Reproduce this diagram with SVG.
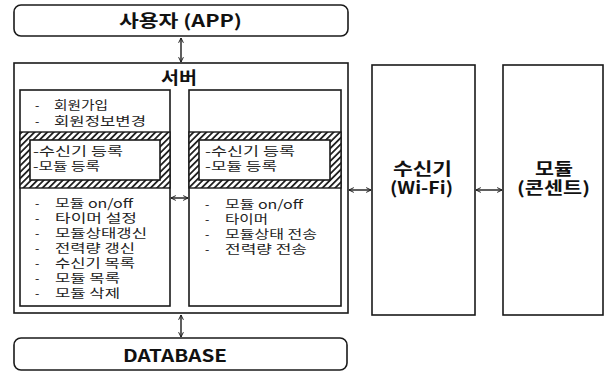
<svg xmlns="http://www.w3.org/2000/svg" width="604" height="372" viewBox="0 0 604 372">
<style>
.box{fill:#fff;stroke:#1a1a1a;stroke-width:1.6}
.hatch{fill:url(#hp);stroke:#1a1a1a;stroke-width:1.4}
.t{font-family:"Noto Sans CJK KR","Noto Sans",sans-serif;font-size:12.5px;fill:#222}
.b{font-family:"Noto Sans CJK KR","Noto Sans",sans-serif;font-size:17px;font-weight:bold;fill:#111}
.c{stroke:#1a1a1a;stroke-width:1.4;fill:none;marker-start:url(#ah);marker-end:url(#ah)}
</style>
<defs>
<pattern id="hp" width="4.5" height="4.5" patternUnits="userSpaceOnUse" patternTransform="rotate(45)">
<rect width="4.5" height="4.5" fill="#fff"/>
<rect width="1.8" height="4.5" fill="#222"/>
</pattern>
<marker id="ah" viewBox="0 0 10 10" refX="9" refY="5" markerWidth="6" markerHeight="6" markerUnits="userSpaceOnUse" orient="auto-start-reverse">
<path d="M1,1 L9,5 L1,9" fill="none" stroke="#1a1a1a" stroke-width="1.6"/>
</marker>
</defs>

<g id="app">
<rect class="box" x="14" y="5" width="334" height="31" rx="7"/>
<text class="b" x="119" y="27" textLength="123" lengthAdjust="spacingAndGlyphs">사용자 (APP)</text>
</g>

<g id="server">
<rect class="box" x="14" y="63" width="334" height="250"/>
<text class="b" x="161" y="84" textLength="36" lengthAdjust="spacingAndGlyphs">서버</text>
</g>

<g id="server-left">
<rect class="box" x="20" y="90" width="150" height="216"/>
<rect class="hatch" x="20" y="132" width="150" height="56"/>
<rect class="box" x="30" y="140" width="130" height="40" stroke-width="1.4"/>
<text class="t" x="35" y="110">-</text><text class="t" x="54" y="110" textLength="54" lengthAdjust="spacingAndGlyphs">회원가입</text>
<text class="t" x="35" y="126">-</text><text class="t" x="54" y="126" textLength="92" lengthAdjust="spacingAndGlyphs">회원정보변경</text>
<text class="t" x="33" y="156" textLength="90" lengthAdjust="spacingAndGlyphs">-수신기 등록</text>
<text class="t" x="33" y="171" textLength="67" lengthAdjust="spacingAndGlyphs">-모듈 등록</text>
<text class="t" x="35" y="208">-</text><text class="t" x="55" y="208" textLength="78" lengthAdjust="spacingAndGlyphs">모듈 on/off</text>
<text class="t" x="35" y="223">-</text><text class="t" x="55" y="223" textLength="82" lengthAdjust="spacingAndGlyphs">타이머 설정</text>
<text class="t" x="35" y="238">-</text><text class="t" x="55" y="238" textLength="92" lengthAdjust="spacingAndGlyphs">모듈상태갱신</text>
<text class="t" x="35" y="253">-</text><text class="t" x="55" y="253" textLength="80" lengthAdjust="spacingAndGlyphs">전력량 갱신</text>
<text class="t" x="35" y="268">-</text><text class="t" x="55" y="268" textLength="80" lengthAdjust="spacingAndGlyphs">수신기 목록</text>
<text class="t" x="35" y="283">-</text><text class="t" x="55" y="283" textLength="65" lengthAdjust="spacingAndGlyphs">모듈 목록</text>
<text class="t" x="35" y="298">-</text><text class="t" x="55" y="298" textLength="65" lengthAdjust="spacingAndGlyphs">모듈 삭제</text>
</g>

<g id="server-right">
<rect class="box" x="189" y="90" width="152" height="216"/>
<rect class="hatch" x="189" y="132" width="152" height="56"/>
<rect class="box" x="199" y="140" width="131" height="40" stroke-width="1.4"/>
<text class="t" x="205" y="156" textLength="90" lengthAdjust="spacingAndGlyphs">-수신기 등록</text>
<text class="t" x="205" y="171" textLength="72" lengthAdjust="spacingAndGlyphs">-모듈 등록</text>
<text class="t" x="205" y="209">-</text><text class="t" x="225" y="209" textLength="78" lengthAdjust="spacingAndGlyphs">모듈 on/off</text>
<text class="t" x="205" y="224">-</text><text class="t" x="225" y="224" textLength="43" lengthAdjust="spacingAndGlyphs">타이머</text>
<text class="t" x="205" y="239">-</text><text class="t" x="225" y="239" textLength="92" lengthAdjust="spacingAndGlyphs">모듈상태 전송</text>
<text class="t" x="205" y="254">-</text><text class="t" x="225" y="254" textLength="82" lengthAdjust="spacingAndGlyphs">전력량 전송</text>
</g>

<g id="receiver">
<rect class="box" x="372" y="65" width="103" height="250"/>
<text class="b" x="393" y="175" textLength="59" lengthAdjust="spacingAndGlyphs">수신기</text>
<text class="b" x="390" y="194" textLength="63" lengthAdjust="spacingAndGlyphs">(Wi-Fi)</text>
</g>

<g id="module">
<rect class="box" x="503" y="65" width="100" height="250"/>
<text class="b" x="535" y="175" textLength="38" lengthAdjust="spacingAndGlyphs">모듈</text>
<text class="b" x="517" y="194" textLength="73" lengthAdjust="spacingAndGlyphs">(콘센트)</text>
</g>

<g id="database">
<rect class="box" x="14" y="338" width="333" height="32" rx="7"/>
<text class="b" x="123" y="362" textLength="104" lengthAdjust="spacingAndGlyphs">DATABASE</text>
</g>

<g id="connectors">
<line class="c" x1="181" y1="38" x2="181" y2="62"/>
<line class="c" x1="181" y1="315" x2="181" y2="337"/>
<line class="c" x1="171" y1="198" x2="188" y2="198"/>
<line class="c" x1="349" y1="190" x2="371" y2="190"/>
<line class="c" x1="476" y1="190" x2="502" y2="190"/>
</g>
</svg>
